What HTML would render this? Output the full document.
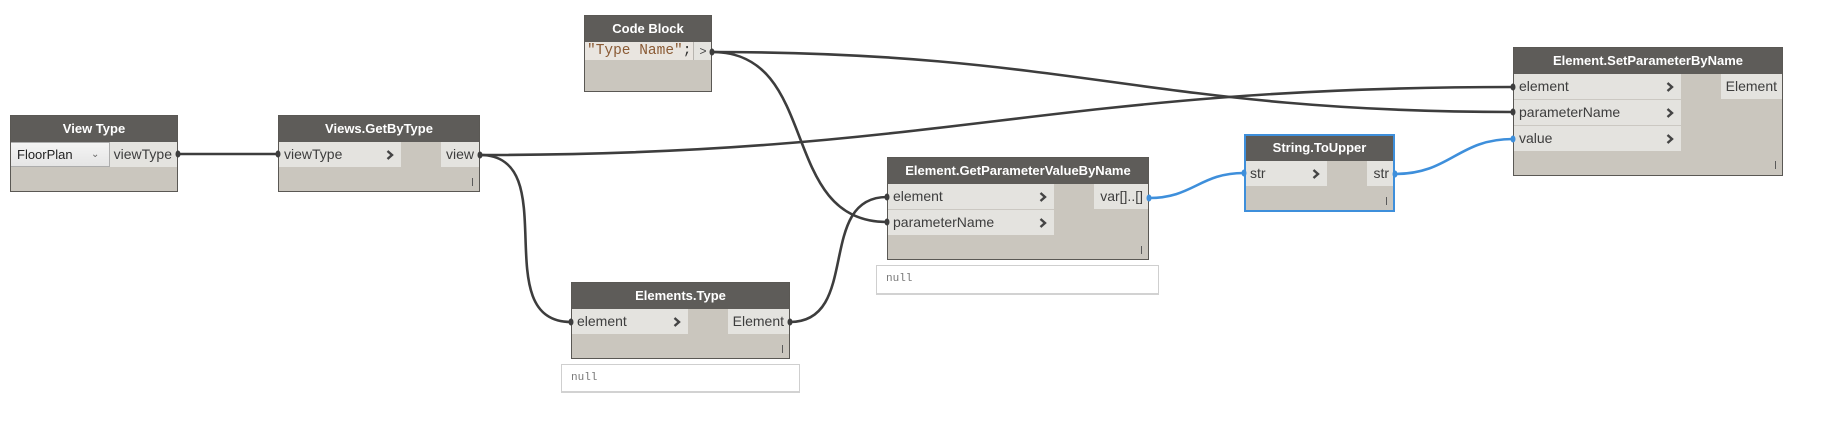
<!DOCTYPE html>
<html><head><meta charset="utf-8">
<style>
html,body{margin:0;padding:0;background:#fff;}
body{width:1844px;height:424px;position:relative;overflow:hidden;font-family:"Liberation Sans",Arial,sans-serif;}
.node{position:absolute;background:#cac6be;}
.node .ov{position:absolute;left:0;top:0;right:0;bottom:0;border:1px solid #5a5854;pointer-events:none;}
.hdr{position:absolute;left:0;top:0;right:0;height:27px;background:#5e5c59;color:#fff;font-weight:bold;font-size:13px;line-height:28px;text-align:center;white-space:nowrap;}
.in{position:absolute;left:0;height:25px;background:#e4e3df;color:#3d3d3d;font-size:14px;line-height:25px;padding-left:6px;box-sizing:border-box;white-space:nowrap;}
.out{position:absolute;height:25px;background:#e4e3df;color:#3d3d3d;font-size:14px;line-height:25px;text-align:right;padding-right:6px;box-sizing:border-box;white-space:nowrap;}
.chev{position:absolute;right:7px;top:8px;width:8px;height:10px;}
.sep{position:absolute;left:0;height:1px;background:#cbc8c2;}
.mark{position:absolute;width:1px;height:8px;background:#5a5a5a;}
.nullbox{position:absolute;background:#fff;border:1px solid #cfcfcf;border-bottom:2px solid #d2d2d2;box-sizing:border-box;font-family:"Liberation Mono",monospace;font-size:11px;color:#777;line-height:27px;padding-left:9px;}
svg.layer{position:absolute;left:0;top:0;}
</style></head><body>

<svg class="layer" width="1844" height="424" style="z-index:0">
 <g fill="none" stroke="#3d3d3d" stroke-width="2.6" stroke-linecap="round">
  <path d="M178,154 L278,154"/>
  <path d="M480,155 C565.6,155 485.4,322 571,322"/>
  <path d="M480,155 C945.8,155 1047.2,87 1513,87"/>
  <path d="M712,52 C1073.4,52 1151.6,112 1513,112"/>
  <path d="M712,52 C821.8,52 777.2,222 887,222"/>
  <path d="M790,322 C861.2,322 815.8,197 887,197"/>
 </g>
 <g fill="none" stroke="#3e8fdb" stroke-width="2.6" stroke-linecap="round">
  <path d="M1149,198 C1193.2,198 1199.8,173 1244,173"/>
  <path d="M1395,174 C1450.4,174 1457.6,139 1513,139"/>
 </g>
</svg>

<!-- View Type -->
<div class="node" style="left:10px;top:115px;width:168px;height:77px;">
 <div class="hdr">View Type</div>
 <div style="position:absolute;left:0;top:27px;width:100px;height:25px;background:linear-gradient(#f4f4f4,#e5e5e5);border:1px solid #adadad;box-sizing:border-box;font-size:13px;line-height:23px;padding-left:6px;color:#222;">FloorPlan<span style="position:absolute;left:80px;top:0;font-size:10px;color:#666;">&#8964;</span></div>
 <div class="out" style="left:100px;top:27px;width:68px;">viewType</div>
 <div class="ov"></div>
</div>

<!-- Views.GetByType -->
<div class="node" style="left:278px;top:115px;width:202px;height:77px;">
 <div class="hdr">Views.GetByType</div>
 <div class="in" style="top:27px;width:123px;">viewType<svg class="chev" viewBox="0 0 8 10"><polyline points="1.5,1 6,5 1.5,9" fill="none" stroke="#444" stroke-width="2.4"/></svg></div>
 <div class="out" style="left:163px;top:27px;width:39px;">view</div>
 <div class="mark" style="left:194px;top:63px;"></div>
 <div class="ov"></div>
</div>

<!-- Code Block -->
<div class="node" style="left:584px;top:15px;width:128px;height:77px;">
 <div class="hdr">Code Block</div>
 <div style="position:absolute;left:0;top:27px;width:109px;height:18px;background:#e9e5e0;font-family:'Liberation Mono',monospace;font-size:14.5px;line-height:19px;padding-left:3px;box-sizing:border-box;white-space:nowrap;color:#8a5a34;">"Type Name"<span style="color:#333">;</span></div>
 <div style="position:absolute;left:109px;top:27px;width:19px;height:18px;background:#e4e3df;border-left:1px solid #b8b5b0;box-sizing:border-box;font-size:12px;line-height:18px;text-align:center;color:#444;">&gt;</div>
 <div class="ov"></div>
</div>

<!-- Elements.Type -->
<div class="node" style="left:571px;top:282px;width:219px;height:77px;">
 <div class="hdr">Elements.Type</div>
 <div class="in" style="top:27px;width:117px;">element<svg class="chev" viewBox="0 0 8 10"><polyline points="1.5,1 6,5 1.5,9" fill="none" stroke="#444" stroke-width="2.4"/></svg></div>
 <div class="out" style="left:157px;top:27px;width:62px;">Element</div>
 <div class="mark" style="left:211px;top:63px;"></div>
 <div class="ov"></div>
</div>
<div class="nullbox" style="left:561px;top:364px;width:239px;height:29px;">null</div>

<!-- Element.GetParameterValueByName -->
<div class="node" style="left:887px;top:157px;width:262px;height:103px;">
 <div class="hdr">Element.GetParameterValueByName</div>
 <div class="in" style="top:27px;width:167px;">element<svg class="chev" viewBox="0 0 8 10"><polyline points="1.5,1 6,5 1.5,9" fill="none" stroke="#444" stroke-width="2.4"/></svg></div>
 <div class="sep" style="top:52px;width:167px;"></div>
 <div class="in" style="top:53px;width:167px;">parameterName<svg class="chev" viewBox="0 0 8 10"><polyline points="1.5,1 6,5 1.5,9" fill="none" stroke="#444" stroke-width="2.4"/></svg></div>
 <div class="out" style="left:207px;top:27px;width:55px;">var[]..[]</div>
 <div class="mark" style="left:254px;top:89px;"></div>
 <div class="ov"></div>
</div>
<div class="nullbox" style="left:876px;top:265px;width:283px;height:30px;">null</div>

<!-- String.ToUpper -->
<div class="node" style="left:1244px;top:134px;width:151px;height:78px;">
 <div class="hdr">String.ToUpper</div>
 <div class="in" style="top:27px;width:83px;">str<svg class="chev" viewBox="0 0 8 10"><polyline points="1.5,1 6,5 1.5,9" fill="none" stroke="#444" stroke-width="2.4"/></svg></div>
 <div class="out" style="left:123px;top:27px;width:28px;">str</div>
 <div class="mark" style="left:142px;top:63px;"></div>
 <div class="ov" style="border:2px solid #3e8fdb;"></div>
</div>

<!-- Element.SetParameterByName -->
<div class="node" style="left:1513px;top:47px;width:270px;height:129px;">
 <div class="hdr">Element.SetParameterByName</div>
 <div class="in" style="top:27px;width:168px;">element<svg class="chev" viewBox="0 0 8 10"><polyline points="1.5,1 6,5 1.5,9" fill="none" stroke="#444" stroke-width="2.4"/></svg></div>
 <div class="sep" style="top:52px;width:168px;"></div>
 <div class="in" style="top:53px;width:168px;">parameterName<svg class="chev" viewBox="0 0 8 10"><polyline points="1.5,1 6,5 1.5,9" fill="none" stroke="#444" stroke-width="2.4"/></svg></div>
 <div class="sep" style="top:78px;width:168px;"></div>
 <div class="in" style="top:79px;width:168px;">value<svg class="chev" viewBox="0 0 8 10"><polyline points="1.5,1 6,5 1.5,9" fill="none" stroke="#444" stroke-width="2.4"/></svg></div>
 <div class="out" style="left:208px;top:27px;width:62px;">Element</div>
 <div class="mark" style="left:262px;top:114px;"></div>
 <div class="ov"></div>
</div>

<!-- port markers -->
<svg class="layer" width="1844" height="424" style="z-index:5">
 <g fill="#3d3d3d">
  <ellipse cx="178" cy="154" rx="2.5" ry="3.5"/>
  <ellipse cx="278" cy="154" rx="2.5" ry="3.5"/>
  <ellipse cx="480" cy="155" rx="2.5" ry="3.5"/>
  <ellipse cx="712" cy="52" rx="2.5" ry="3.5"/>
  <ellipse cx="571" cy="322" rx="2.5" ry="3.5"/>
  <ellipse cx="790" cy="322" rx="2.5" ry="3.5"/>
  <ellipse cx="887" cy="197" rx="2.5" ry="3.5"/>
  <ellipse cx="887" cy="222" rx="2.5" ry="3.5"/>
  <ellipse cx="1513" cy="87" rx="2.5" ry="3.5"/>
  <ellipse cx="1513" cy="112" rx="2.5" ry="3.5"/>
 </g>
 <g fill="#3e8fdb">
  <ellipse cx="1149" cy="198" rx="2.5" ry="3.5"/>
  <ellipse cx="1244" cy="173" rx="2.5" ry="3.5"/>
  <ellipse cx="1395" cy="174" rx="2.5" ry="3.5"/>
  <ellipse cx="1513" cy="139" rx="2.5" ry="3.5"/>
 </g>
</svg>

</body></html>
